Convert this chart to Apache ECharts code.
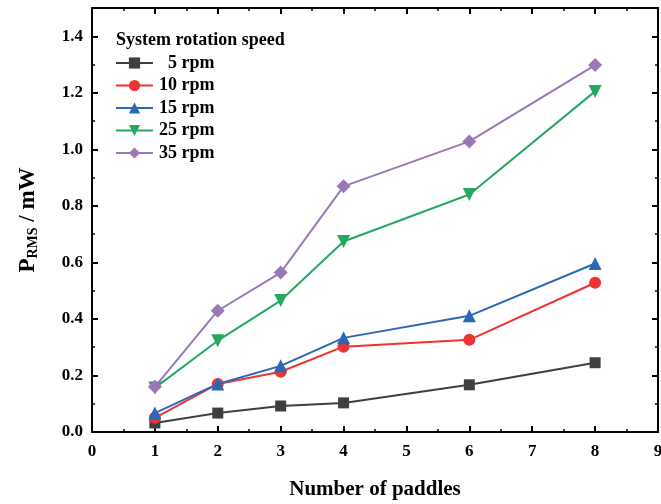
<!DOCTYPE html>
<html><head><meta charset="utf-8">
<script src="https://cdn.jsdelivr.net/npm/echarts@6/dist/echarts.min.js"></script>
<style>html,body{margin:0;padding:0;background:#fff}#c{width:661px;height:504px}</style>
</head><body><div id="c"></div>
<script>
const paddles = [1, 2, 3, 4, 6, 8];
const seriesNames = ['  5 rpm', '10 rpm', '15 rpm', '25 rpm', '35 rpm'];
const rpm5  = [0.032, 0.067, 0.092, 0.103, 0.167, 0.245];
const rpm10 = [0.050, 0.170, 0.213, 0.302, 0.326, 0.528];
const rpm15 = [0.067, 0.170, 0.234, 0.333, 0.411, 0.596];
const rpm25 = [0.156, 0.323, 0.465, 0.674, 0.840, 1.205];
const rpm35 = [0.160, 0.429, 0.564, 0.869, 1.028, 1.298];
const xTicks = [0,1,2,3,4,5,6,7,8,9];
const yTicks = [0.0,0.2,0.4,0.6,0.8,1.0,1.2,1.4];

const values = [rpm5, rpm10, rpm15, rpm25, rpm35];
const colors = ['#3f3f3f', '#ee3333', '#2b67b5', '#27a862', '#9a78b6'];
const symbols = ['rect', 'circle', 'triangle', 'triangle', 'diamond'];
const rot = [0, 0, 0, 180, 0];
const sizes = [11, 12, 13, 13, 14];
const font = '"Liberation Serif", "Times New Roman", serif';

const chart = echarts.init(document.getElementById('c'));
const axisCommon = {
  axisLine: {show: true, onZero: false, lineStyle: {color: '#000', width: 2}},
  axisTick: {show: true, inside: true, length: 6, lineStyle: {color: '#000', width: 2}},
  minorTick: {show: true, splitNumber: 2, length: 3, lineStyle: {color: '#000', width: 1.5}},
  splitLine: {show: false}
};
chart.setOption({
  animation: false,
  textStyle: {fontFamily: font},
  grid: {left: 92, right: 3, top: 8, bottom: 72, containLabel: false, outerBoundsMode: 'none'},
  legend: {
    data: seriesNames,
    orient: 'vertical', left: 115, top: 54, padding: 0,
    itemWidth: 37, itemHeight: 14, itemGap: 4.5,
    textStyle: {fontFamily: font, fontWeight: 'bold', fontSize: 18, color: '#000', padding: [0,0,0,1]}
  },
  graphic: [{type: 'text', left: 116, top: 31,
    style: {text: 'System rotation speed', font: 'bold 18px ' + font, fill: '#000'}}],
  xAxis: [
    Object.assign({type: 'value', min: 0, max: 9, interval: 1, position: 'bottom',
      name: 'Number of paddles', nameLocation: 'middle', nameGap: 47,
      nameTextStyle: {fontFamily: font, fontWeight: 'bold', fontSize: 21, color: '#000'},
      axisLabel: {fontFamily: font, fontWeight: 'bold', fontSize: 17, color: '#000', margin: 11,
        formatter: v => String(xTicks[v] !== undefined ? xTicks[v] : v)}}, axisCommon),
    Object.assign({type: 'value', min: 0, max: 9, interval: 1, position: 'top',
      axisLabel: {show: false}}, axisCommon)
  ],
  yAxis: [
    Object.assign({type: 'value', min: 0, max: 1.5, interval: 0.2, position: 'left',
      name: '{m|P}{s|RMS}{m| / mW}', nameLocation: 'middle', nameGap: 52, nameRotate: 90,
      nameTextStyle: {rich: {
        m: {fontFamily: font, fontWeight: 'bold', fontSize: 23, color: '#000', verticalAlign: 'bottom', lineHeight: 26},
        s: {fontFamily: font, fontWeight: 'bold', fontSize: 14, color: '#000', verticalAlign: 'bottom', lineHeight: 20}
      }},
      axisLabel: {fontFamily: font, fontWeight: 'bold', fontSize: 17, color: '#000', margin: 9,
        showMaxLabel: false,
        formatter: v => v > 1.45 ? '' : v.toFixed(1)}}, axisCommon),
    Object.assign({type: 'value', min: 0, max: 1.5, interval: 0.2, position: 'right',
      axisLabel: {show: false}}, axisCommon)
  ],
  series: values.map((vals, i) => ({
    name: seriesNames[i], type: 'line',
    data: paddles.map((p, j) => [p, vals[j]]),
    symbol: symbols[i], symbolSize: sizes[i], symbolRotate: rot[i],
    lineStyle: {color: colors[i], width: 2},
    itemStyle: {color: colors[i]},
    z: 2 + i
  }))
});
</script></body></html>
